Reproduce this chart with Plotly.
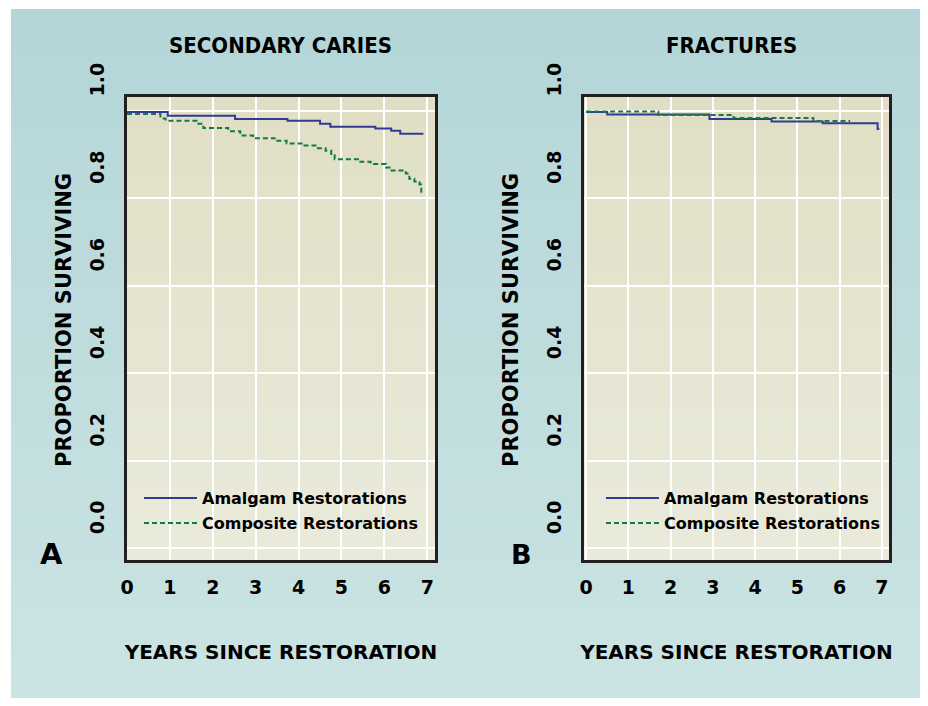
import plotly.graph_objects as go

# ---------------- data ----------------
year_ticks = [0, 1, 2, 3, 4, 5, 6, 7]
prop_ticks = [0.0, 0.2, 0.4, 0.6, 0.8, 1.0]
prop_ticklabels = ["0.0", "0.2", "0.4", "0.6", "0.8", "1.0"]

panel_titles = ["SECONDARY CARIES", "FRACTURES"]
panel_letters = ["A", "B"]
series_names = ["Amalgam Restorations", "Composite Restorations"]
x_title = "YEARS SINCE RESTORATION"
y_title = "PROPORTION SURVIVING"

# Panel A - secondary caries (time where each survival level starts)
caries_amalgam_t = [0, 0.95, 2.52, 3.74, 4.50, 4.74, 5.79, 6.16, 6.37, 6.91]
caries_amalgam_s = [0.997, 0.988, 0.981, 0.977, 0.970, 0.963, 0.959, 0.954, 0.947, 0.947]

caries_composite_t = [0, 0.78, 0.90, 1.62, 1.78, 2.36, 2.64, 2.94, 3.44, 3.72, 4.07,
                      4.45, 4.63, 4.76, 4.84, 5.44, 5.68, 6.04, 6.12, 6.50, 6.58,
                      6.70, 6.82, 6.86, 6.88]
caries_composite_s = [0.992, 0.982, 0.977, 0.970, 0.960, 0.953, 0.943, 0.937, 0.931,
                      0.925, 0.920, 0.914, 0.908, 0.898, 0.889, 0.883, 0.878, 0.870,
                      0.863, 0.856, 0.844, 0.838, 0.831, 0.811, 0.811]

# Panel B - fractures
fract_amalgam_t = [0, 0.50, 2.92, 4.39, 5.60, 6.90, 6.94]
fract_amalgam_s = [0.997, 0.991, 0.981, 0.975, 0.971, 0.958, 0.958]

fract_composite_t = [0, 1.71, 3.49, 5.38, 6.25]
fract_composite_s = [0.998, 0.990, 0.983, 0.976, 0.976]

# ---------------- styling ----------------
W, H = 912, 690          # page body margin (8px) puts the figure at (8, 8)
OFF = 8
BLUE = "#333a94"
GREEN = "#137a4a"
FRAME = "#231f20"
FONT = "DejaVu Sans"


def fx(sx):
    return (sx - OFF) / W


def fy(sy):
    return 1 - (sy - OFF) / H


fig = go.Figure()

fig.add_trace(go.Scatter(x=caries_amalgam_t, y=caries_amalgam_s, mode="lines",
                         line=dict(color=BLUE, width=2, shape="hv"),
                         name=series_names[0], xaxis="x", yaxis="y", legend="legend"))
fig.add_trace(go.Scatter(x=caries_composite_t, y=caries_composite_s, mode="lines",
                         line=dict(color=GREEN, width=2, shape="hv", dash="5px,3px"),
                         name=series_names[1], xaxis="x", yaxis="y", legend="legend2"))
fig.add_trace(go.Scatter(x=fract_amalgam_t, y=fract_amalgam_s, mode="lines",
                         line=dict(color=BLUE, width=2, shape="hv"),
                         name=series_names[0], xaxis="x2", yaxis="y2", legend="legend3"))
fig.add_trace(go.Scatter(x=fract_composite_t, y=fract_composite_s, mode="lines",
                         line=dict(color=GREEN, width=2, shape="hv", dash="5px,3px"),
                         name=series_names[1], xaxis="x2", yaxis="y2", legend="legend4"))

ydom = [fy(560), fy(97)]
xdomA = [fx(127), fx(435)]
xdomB = [fx(584), fx(889)]

tickfont = dict(family=FONT, size=19, color="black", weight="bold")
titlefont_x = dict(family=FONT, size=20, color="black", weight="bold")
titlefont_y = dict(family=FONT, size=21, color="black", weight="bold")


def xaxis_cfg(dom, rng, anchor):
    return dict(domain=dom, range=rng, anchor=anchor, tickvals=year_ticks,
                ticktext=[str(v) for v in year_ticks],
                showgrid=True, gridcolor="white", gridwidth=2, zeroline=False,
                showline=True, mirror=True, linecolor=FRAME, linewidth=3,
                ticks="", tickfont=tickfont, ticklabelstandoff=8,
                title=dict(text=x_title, font=titlefont_x, standoff=49))


def yaxis_cfg(anchor):
    return dict(domain=ydom, range=[-0.027, 1.031], anchor=anchor, tickvals=prop_ticks,
                ticktext=prop_ticklabels, tickangle=-90, ticklabelshift=-28,
                showgrid=True, gridcolor="white", gridwidth=2, zeroline=False,
                showline=True, mirror=True, linecolor=FRAME, linewidth=3,
                ticks="", tickfont=tickfont, ticklabelstandoff=12)


# background: teal gradient panel and beige gradient plot areas
shapes = []
n = 30
top_c, bot_c = (180, 214, 216), (203, 227, 227)
y_top, y_bot = fy(9), 0
for i in range(n):
    f = i / (n - 1)
    c = tuple(round(top_c[k] + (bot_c[k] - top_c[k]) * f) for k in range(3))
    y0 = y_top - (y_top - y_bot) * i / n
    shapes.append(dict(type="rect", xref="paper", yref="paper", x0=fx(11), x1=1,
                       y0=y_bot, y1=y0, fillcolor="rgb(%d,%d,%d)" % c,
                       line=dict(width=0), layer="below"))
ptop, pbot = (224, 223, 197), (234, 234, 220)
for dom in (xdomA, xdomB):
    for i in range(n):
        f = i / (n - 1)
        c = tuple(round(ptop[k] + (pbot[k] - ptop[k]) * f) for k in range(3))
        y0 = ydom[1] - (ydom[1] - ydom[0]) * i / n
        shapes.append(dict(type="rect", xref="paper", yref="paper", x0=dom[0], x1=dom[1],
                           y0=ydom[0], y1=y0, fillcolor="rgb(%d,%d,%d)" % c,
                           line=dict(width=0), layer="below"))

legfont = dict(family=FONT, size=16, color="black", weight="bold")


def leg(sx, sy):
    return dict(x=fx(sx - 5), y=fy(sy), xanchor="left", yanchor="middle",
                bgcolor="rgba(0,0,0,0)", borderwidth=0, font=legfont, itemwidth=53)


def ann(text, sx, sy, font, angle=0):
    return dict(text=text, x=fx(sx), y=fy(sy), xref="paper", yref="paper",
                showarrow=False, xanchor="center", yanchor="middle",
                textangle=angle, font=font)


title_font = dict(family="DejaVu Sans Condensed, DejaVu Sans", size=22,
                  color="black", weight="bold")
annotations = [
    ann(panel_titles[0], 280, 46, title_font),
    ann(panel_titles[1], 731, 46, title_font),
    ann(panel_letters[0], 51, 554, dict(family=FONT, size=29, color="black", weight="bold")),
    ann(panel_letters[1], 521, 554, dict(family=FONT, size=27, color="black", weight="bold")),
    ann(y_title, 64, 320, titlefont_y, -90),
    ann(y_title, 511, 320, titlefont_y, -90),
]

fig.update_layout(
    width=W, height=H, autosize=False,
    margin=dict(l=0, r=0, t=0, b=0, autoexpand=False),
    paper_bgcolor="white", plot_bgcolor="rgba(0,0,0,0)",
    xaxis=xaxis_cfg(xdomA, [0, 7.18], "y"),
    yaxis=yaxis_cfg("x"),
    xaxis2=xaxis_cfg(xdomB, [-0.05, 7.17], "y2"),
    yaxis2=yaxis_cfg("x2"),
    shapes=shapes,
    annotations=annotations,
    legend=leg(144, 498),
    legend2=leg(144, 523),
    legend3=leg(606, 498),
    legend4=leg(606, 523),
    showlegend=True,
)

fig.write_html("out.html")
